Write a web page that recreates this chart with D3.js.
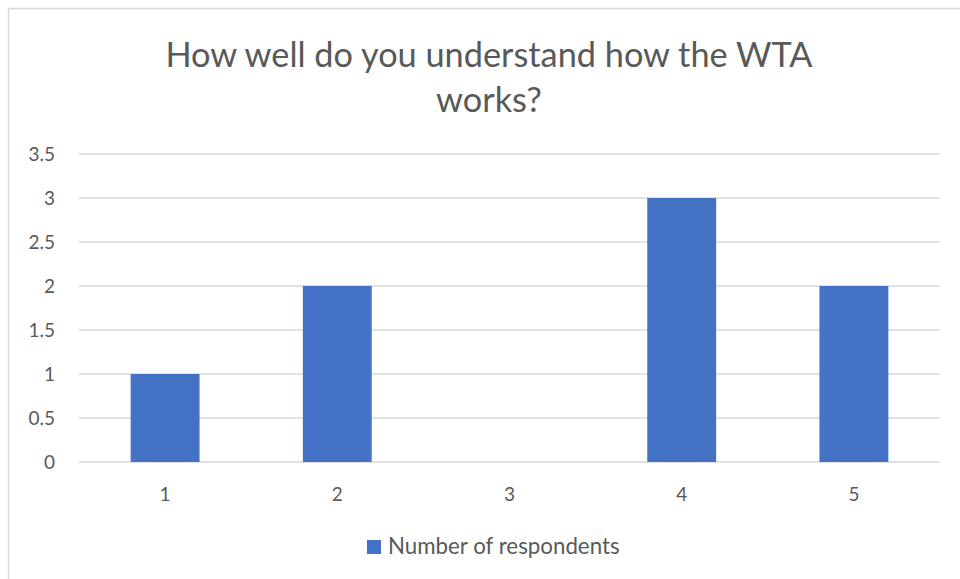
<!DOCTYPE html>
<html>
<head>
<meta charset="utf-8">
<script src="https://cdn.jsdelivr.net/npm/d3@7"></script>
<style>
  html, body { margin: 0; padding: 0; background: #fff; }
  svg { display: block; }
  text { font-family: Lato, "Open Sans", sans-serif; fill: #595959; }
</style>
</head>
<body>
<script>
// Survey responses: understanding rating vs. number of respondents
const categories = ["1", "2", "3", "4", "5"];
const respondents = [1, 2, 0, 3, 2];
const yTicks = [0, 0.5, 1, 1.5, 2, 2.5, 3, 3.5];
const titleLines = ["How well do you understand how the WTA", "works?"];
const seriesName = "Number of respondents";

const W = 960, H = 579;
const plotLeft = 79, plotRight = 940, plotTop = 154, plotBottom = 462;

const svg = d3.select("body").append("svg")
  .attr("width", W).attr("height", H);

// chart frame
svg.append("rect")
  .attr("x", 8.5).attr("y", 8.5)
  .attr("width", 980).attr("height", 600)
  .attr("fill", "#fff")
  .attr("stroke", "#d9d9d9").attr("stroke-width", 1.5);

const x = d3.scaleBand()
  .domain(categories)
  .range([plotLeft, plotRight])
  .paddingInner(0.6)
  .paddingOuter(0.3);

const y = d3.scaleLinear()
  .domain([0, 3.5])
  .range([plotBottom, plotTop]);

// gridlines
svg.append("g")
  .selectAll("line")
  .data(yTicks)
  .join("line")
  .attr("x1", plotLeft).attr("x2", plotRight)
  .attr("y1", d => y(d)).attr("y2", d => y(d))
  .attr("stroke", "#d9d9d9").attr("stroke-width", 1.3);

// y axis labels
const yAxis = d3.axisLeft(y).tickValues(yTicks).tickSize(0).tickPadding(0)
  .tickFormat(d => String(d));
const gy = svg.append("g").attr("transform", "translate(55,0)").call(yAxis);
gy.select(".domain").remove();
gy.selectAll("text")
  .attr("font-family", "Lato, sans-serif")
  .attr("font-size", 19)
  .attr("fill", "#595959")
  .attr("dy", "0.36em");

// bars
svg.append("g")
  .selectAll("rect")
  .data(categories.map((c, i) => ({ c, v: respondents[i] })))
  .join("rect")
  .attr("x", d => x(d.c))
  .attr("width", x.bandwidth())
  .attr("y", d => y(d.v))
  .attr("height", d => y(0) - y(d.v))
  .attr("fill", "#4472c4");

// x axis labels
const xAxis = d3.axisBottom(x).tickSize(0).tickPadding(0);
const gx = svg.append("g").attr("transform", `translate(0,${plotBottom})`).call(xAxis);
gx.select(".domain").remove();
gx.selectAll("text")
  .attr("font-family", "Lato, sans-serif")
  .attr("font-size", 19)
  .attr("fill", "#595959")
  .attr("dy", null)
  .attr("y", 39);

// title
const title = svg.append("text")
  .attr("text-anchor", "middle")
  .attr("font-size", 34.3);
title.selectAll("tspan")
  .data(titleLines)
  .join("tspan")
  .attr("x", 489)
  .attr("y", (d, i) => 67 + i * 45)
  .text(d => d);

// legend
const legend = svg.append("g").attr("transform", "translate(367,540)");
legend.append("rect")
  .attr("width", 14).attr("height", 14)
  .attr("fill", "#4472c4");
legend.append("text")
  .attr("x", 21).attr("y", 13.5)
  .attr("font-size", 22.3)
  .text(seriesName);
</script>
</body>
</html>
